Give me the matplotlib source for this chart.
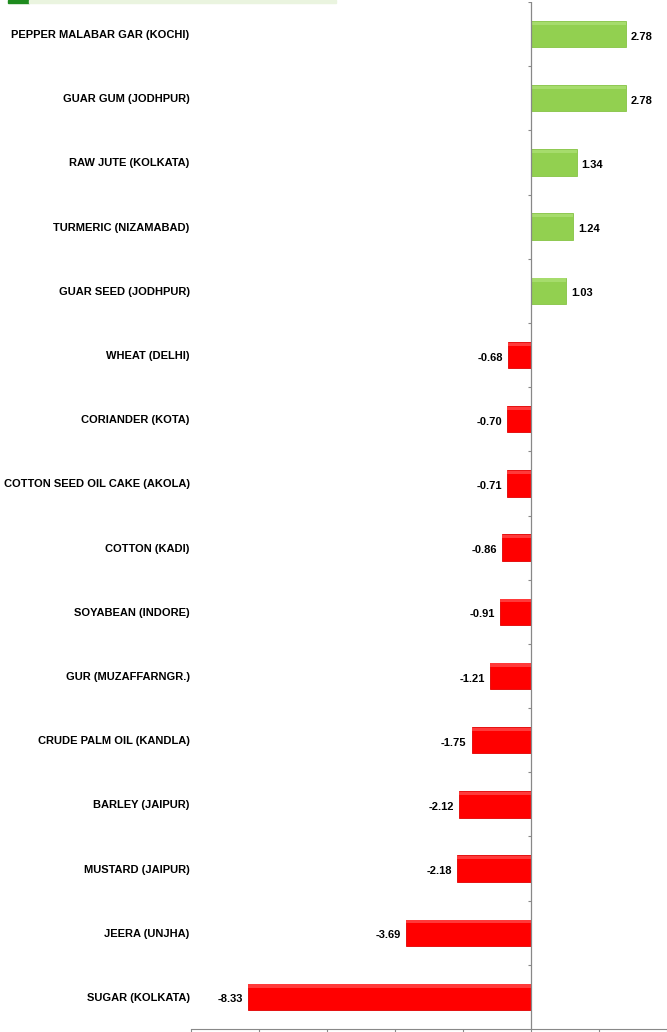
import matplotlib.pyplot as plt
from matplotlib.patches import Rectangle
from matplotlib import font_manager

# commodities, top to bottom, with % change
commodities = [
    'PEPPER MALABAR GAR (KOCHI)', 'GUAR GUM (JODHPUR)', 'RAW JUTE (KOLKATA)',
    'TURMERIC (NIZAMABAD)', 'GUAR SEED (JODHPUR)', 'WHEAT (DELHI)',
    'CORIANDER (KOTA)', 'COTTON SEED OIL CAKE (AKOLA)', 'COTTON (KADI)',
    'SOYABEAN (INDORE)', 'GUR (MUZAFFARNGR.)', 'CRUDE PALM OIL (KANDLA)',
    'BARLEY (JAIPUR)', 'MUSTARD (JAIPUR)', 'JEERA (UNJHA)', 'SUGAR (KOLKATA)',
]
changes = [2.78, 2.78, 1.34, 1.24, 1.03, -0.68, -0.70, -0.71, -0.86,
           -0.91, -1.21, -1.75, -2.12, -2.18, -3.69, -8.33]

names = {f.name for f in font_manager.fontManager.ttflist}
fam = 'Liberation Sans Narrow' if 'Liberation Sans Narrow' in names else 'Liberation Sans'
fs = 9 if fam == 'Liberation Sans Narrow' else 8
plt.rcParams['font.family'] = [fam, 'DejaVu Sans']

fig = plt.figure(figsize=(6.67, 10.32), dpi=100)
ax = fig.add_axes([191 / 667, 3 / 1032, 476 / 667, 1027 / 1032])

ypos = list(range(len(commodities)))
colors = ['#92D050' if v >= 0 else '#FF0000' for v in changes]
edges = ['#86C444' if v >= 0 else '#E00000' for v in changes]
ax.barh(ypos, changes, height=0.41, color=colors, edgecolor=edges, linewidth=0.6, zorder=2)
# light sheen along the top of each bar
sheen = ['#A6DC6C' if v >= 0 else '#FF3A3A' for v in changes]
ax.barh([y - 0.17 for y in ypos], changes, height=0.05, color=sheen, linewidth=0, zorder=2.5)

# value labels
for y, v in zip(ypos, changes):
    if v >= 0:
        ax.text(v + 0.15, y + 0.04, f'{v:.2f}', ha='left', va='center',
                fontsize=fs, fontweight='bold')
    else:
        ax.text(v - 0.15, y + 0.04, f'{v:.2f}', ha='right', va='center',
                fontsize=fs, fontweight='bold')

ax.set_xlim(-10, 4)
ax.set_ylim(len(commodities) - 0.5, -0.5)
ax.set_xticks(range(-10, 5, 2))
ax.set_xticklabels([])
ax.tick_params(axis='x', length=3, color='#888888', width=0.8)

ax.set_yticks(ypos)
ax.set_yticklabels(commodities, fontsize=fs, fontweight='bold')
ax.tick_params(axis='y', length=0, pad=1)

for s in ['left', 'top', 'right']:
    ax.spines[s].set_visible(False)
ax.spines['bottom'].set_color('#888888')
ax.spines['bottom'].set_linewidth(0.8)

# zero line with small ticks between categories
ax.axvline(0, color='#888888', lw=0.9, zorder=3)
bounds = [i + 0.5 for i in range(-1, len(commodities) - 1)]
ax.hlines(bounds, -0.09, 0, color='#888888', lw=0.8, zorder=3)

# header strip at top left
fig.patches.append(Rectangle((8 / 667, 1 - 3 / 1032), 21 / 667, 3 / 1032,
                             transform=fig.transFigure, color='#1E8B1E'))
fig.patches.append(Rectangle((29 / 667, 1 - 3 / 1032), 307 / 667, 3 / 1032,
                             transform=fig.transFigure, color='#EAF4DF'))

fig.savefig('out.png', dpi=100)
